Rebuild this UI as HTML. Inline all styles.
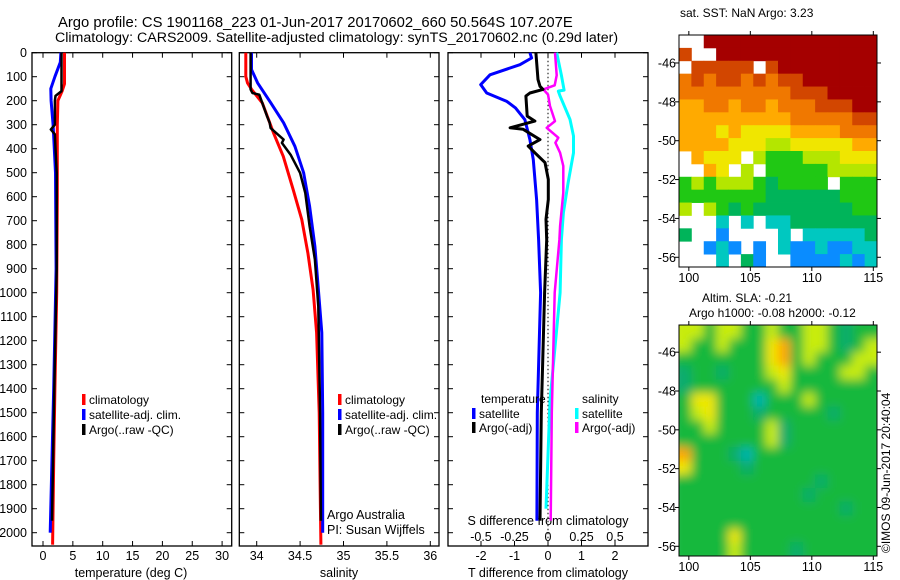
<!DOCTYPE html>
<html><head><meta charset="utf-8">
<style>
html,body{margin:0;padding:0;background:#fff;}
svg{display:block;font-family:"Liberation Sans",Arial,sans-serif;}
text{fill:#000;}
</style></head>
<body>
<svg id="fig" width="900" height="580" viewBox="0 0 900 580" xmlns="http://www.w3.org/2000/svg">
<defs>
<filter id="blurSla" x="0" y="0" width="1" height="1"><feGaussianBlur stdDeviation="5"/></filter>
<clipPath id="clipSla"><rect x="679" y="325" width="198" height="231"/></clipPath>
</defs>
<text x="58" y="27" font-size="14.8">Argo profile: CS 1901168_223 01-Jun-2017 20170602_660 50.564S 107.207E</text>
<text x="55" y="42" font-size="14.2">Climatology: CARS2009. Satellite-adjusted climatology: synTS_20170602.nc (0.29d later)</text>
<text x="680" y="17" font-size="12">sat. SST: NaN Argo: 3.23</text>
<text x="702" y="302" font-size="12">Altim. SLA: -0.21</text>
<text x="689" y="317" font-size="12">Argo h1000: -0.08 h2000: -0.12</text>
<text transform="translate(890,553) rotate(-90)" font-size="12">©IMOS 09-Jun-2017 20:40:04</text>
</svg>
<script>
// ---------- data ----------
const depthTicks=[0,100,200,300,400,500,600,700,800,900,1000,1100,1200,1300,1400,1500,1600,1700,1800,1900,2000];
const tempTicks=[0,5,10,15,20,25,30];
const salTicks=[34,34.5,35,35.5,36];
const salTickLabels=["34","34.5","35","35.5","36"];
const tdTicks=[-2,-1,0,1,2];
const sdTicks=[-0.5,-0.25,0,0.25,0.5];
const sdTickLabels=["-0.5","-0.25","0","0.25","0.5"];
// temperature profiles
const tClimDepth=[0,130,160,200,300,600,1000,1400,1700,2050];
const tClimVal=[3.6,3.6,3.2,2.5,2.4,2.4,2.3,2.0,1.8,1.6];
const tSatDepth=[0,40,100,150,200,300,500,900,1400,2000];
const tSatVal=[3.0,2.9,2.0,1.3,1.35,1.7,2.1,2.2,1.8,1.2];
const tArgoDepth=[0,160,180,200,300,320,340,400,500,900,1400,1950];
const tArgoVal=[3.1,3.1,2.1,2.0,2.0,1.3,2.0,2.1,2.3,2.3,1.9,1.5];
// salinity profiles
const sClimDepth=[0,99,126,154,209,334,432,571,696,835,988,1167,1500,2050];
const sClimVal=[33.875,33.875,33.894,33.943,34.065,34.193,34.307,34.42,34.52,34.59,34.65,34.69,34.72,34.74];
const sSatDepth=[0,70,126,208,292,390,500,640,807,1030,1167,1500,2000];
const sSatVal=[33.94,33.94,34.01,34.16,34.31,34.44,34.54,34.61,34.67,34.72,34.75,34.76,34.76];
const sArgoDepth=[0,153,168,175,265,292,314,362,376,425,501,585,723,862,1057,1500,1950];
const sArgoVal=[33.93,33.93,33.95,34.03,34.12,34.15,34.16,34.31,34.29,34.39,34.5,34.56,34.61,34.67,34.71,34.73,34.74];
// difference profiles
const dTSatDepth=[0,22,50,92,133,168,203,230,279,362,446,612,779,1000,1500,1950];
const dTSatVal=[-0.54,-0.49,-0.84,-1.73,-2.01,-1.83,-1.23,-0.97,-0.69,-0.54,-0.44,-0.34,-0.28,-0.22,-0.32,-0.33];
const dTArgoDepth=[0,112,140,153,168,181,264,285,313,319,362,389,417,458,528,612,694,779,1000,1500,1950];
const dTArgoVal=[-0.36,-0.3,-0.24,-0.15,-0.54,-0.66,-0.62,-0.39,-1.13,-0.74,-0.24,-0.59,-0.39,-0.09,0.01,0.01,-0.06,-0.04,-0.1,-0.2,-0.24];
const dSSatDepth=[0,94,156,160,181,278,347,417,542,667,779,1000,1450,1900];
const dSSatVal=[0.065,0.10,0.12,0.077,0.09,0.164,0.19,0.19,0.15,0.115,0.10,0.09,0.015,-0.015];
const dSArgoDepth=[0,94,136,153,174,222,285,313,354,375,417,472,583,722,779,1000,1500,1950];
const dSArgoVal=[0.052,0.065,0.05,-0.035,0.0,0.015,0.052,-0.01,0.077,0.055,0.09,0.114,0.114,0.09,0.085,0.05,0.028,0.02];
// maps
const mapLonTicks=[100,105,110,115];
const mapLatTicks=[-46,-48,-50,-52,-54,-56];
const sstGrid=[
[-1,-1,10,10,10,10,10,10,10,10,10,10,10,10,10,10],
[9,-1,-1,10,10,10,10,10,10,10,10,10,10,10,10,10],
[-1,9,9,9,9,9,-1,9,10,10,10,10,10,10,10,10],
[8,9,8,9,9,8,9,8,9,9,10,10,10,10,10,10],
[8,8,8,8,8,8,8,8,8,9,9,9,10,10,10,10],
[7,7,8,8,7,8,8,7,8,8,8,9,9,9,10,10],
[7,7,7,7,7,7,7,7,7,8,8,8,8,8,9,9],
[7,7,7,6,7,6,6,6,6,7,7,7,7,8,8,8],
[7,7,7,7,6,6,6,5,5,6,6,6,6,6,7,7],
[-1,7,6,6,6,-1,5,4,4,4,5,5,5,6,6,6],
[-1,-1,7,6,-1,5,-1,4,4,4,4,4,5,5,5,5],
[4,5,4,5,5,5,4,3,4,4,4,4,-1,4,4,4],
[4,4,4,4,4,4,4,3,3,3,3,3,3,4,4,4],
[5,-1,5,4,3,4,3,3,3,3,3,3,3,3,4,4],
[-1,-1,-1,2,-1,2,-1,2,2,3,3,3,3,3,3,3],
[3,-1,-1,1,-1,-1,-1,-1,2,-1,2,2,2,2,2,3],
[-1,-1,1,2,1,-1,1,-1,2,1,1,2,1,1,2,2],
[-1,-1,-1,2,-1,3,1,-1,-1,1,1,1,1,2,1,2]];
const slaGrid=[
[3,3,2,3,3,2,2,3,2,2,3,3,2,1,2,2],
[3,2,2,3,2,2,2,4,5,2,3,3,2,1,2,3],
[2,2,2,2,2,2,2,4,5,2,3,2,2,2,3,3],
[1,2,2,1,2,2,2,3,4,2,2,2,2,3,3,2],
[1,2,2,2,2,2,2,2,3,2,2,2,2,2,2,2],
[2,4,4,2,2,2,0,2,2,2,3,2,2,2,2,2],
[2,3,4,2,2,2,1,2,2,2,2,2,1,2,2,2],
[2,2,3,2,2,2,2,3,1,2,2,2,2,2,2,2],
[2,2,2,2,2,2,2,3,1,2,2,2,2,2,2,2],
[5,2,2,2,1,0,2,2,2,2,2,2,2,2,2,2],
[4,2,2,2,2,1,2,2,2,2,2,2,2,2,2,2],
[2,2,2,2,2,2,2,2,2,2,2,1,2,2,2,2],
[2,2,2,2,2,2,2,2,2,2,1,2,2,2,2,2],
[2,2,2,2,2,2,2,2,2,2,2,2,2,1,2,2],
[2,2,2,2,2,2,2,2,2,2,2,2,2,2,2,2],
[2,2,2,2,4,2,2,2,2,2,2,2,2,2,2,2],
[2,2,2,2,3,2,2,2,2,1,2,2,2,2,2,2]];
// ---------- drawing ----------
const NS="http://www.w3.org/2000/svg";
const svg=document.getElementById('fig');
function mk(tag,attrs,parent){const e=document.createElementNS(NS,tag);for(const k in attrs)e.setAttribute(k,attrs[k]);(parent||svg).appendChild(e);return e;}
const Y0=52.7, PXD=0.24, YB=546;
const yD=d=>Y0+d*PXD;
const xT=v=>43+v*5.97;
const xS=v=>256.7+(v-34)*86.8;
const xTD=v=>548+v*33.5;
const xSD=v=>548+v*134;
const panels=[{x0:32,x1:231.7,name:'temperature-panel'},{x0:239.3,x1:439,name:'salinity-panel'},{x0:448,x1:648,name:'difference-panel'}];
panels.forEach((p,i)=>{
  const g=mk('g',{});
  
  
  const r=mk('rect',{x:p.x0,y:Y0,width:p.x1-p.x0,height:YB-Y0,fill:'#fff',stroke:'#000','stroke-width':1.3},g);
  
  
  depthTicks.forEach(d=>{
    mk('line',{x1:p.x0,x2:p.x0+5,y1:yD(d),y2:yD(d),stroke:'#000'},g);
    mk('line',{x1:p.x1-5,x2:p.x1,y1:yD(d),y2:yD(d),stroke:'#000'},g);
  });
  p.g=g;
});
depthTicks.forEach(d=>{
  const t=mk('text',{x:27,y:yD(d)+4.5,'font-size':12.5,'text-anchor':'end'});
  t.textContent=d;
  
  
});
function xTicks(g,vals,labels,fx,ly,top){
  vals.forEach((v,i)=>{
    const x=fx(v);
    mk('line',{x1:x,x2:x,y1:YB,y2:YB-5,stroke:'#000'},g);
    if(top)mk('line',{x1:x,x2:x,y1:Y0,y2:Y0+5,stroke:'#000'},g);
    const t=mk('text',{x:x,y:ly,'font-size':12.5,'text-anchor':'middle'},g);
    t.textContent=labels[i];
    
    
  });
}
xTicks(panels[0].g,tempTicks,tempTicks.map(String),xT,560,true);
xTicks(panels[1].g,salTicks,salTickLabels,xS,560,true);
xTicks(panels[2].g,tdTicks,tdTicks.map(String),xTD,560,true);
sdTicks.forEach((v,i)=>{
  const t=mk('text',{x:xSD(v),y:541,'font-size':12.5,'text-anchor':'middle'});
  t.textContent=sdTickLabels[i];
  
  
});
function label(x,y,s,name,anchor,fs){const t=mk('text',{x:x,y:y,'font-size':fs||12.5,'text-anchor':anchor||'middle'});t.textContent=s;return t;}
label(131,577,'temperature (deg C)','temperature-axis-title');
label(339,577,'salinity','salinity-axis-title');
label(548,577,'T difference from climatology','t-difference-axis-title');
label(548,525,'S difference from climatology','s-difference-axis-title');
label(327,519,'Argo Australia','argo-australia-note','start');
label(327,534,'PI: Susan Wijffels','pi-note','start');
const zl=mk('line',{x1:548,x2:548,y1:Y0,y2:YB,stroke:'#000','stroke-dasharray':'1.5,2.5','stroke-width':1});


function prof(depths,vals,fx,color,w,name){
  const pts=depths.map((d,i)=>fx(vals[i]).toFixed(1)+','+yD(d).toFixed(1)).join(' ');
  const pl=mk('polyline',{points:pts,fill:'none',stroke:color,'stroke-width':w,'stroke-linejoin':'round'});
  
  
}
prof(tClimDepth,tClimVal,xT,'#ff0000',3,'temperature-climatology-line');
prof(tSatDepth,tSatVal,xT,'#0000ff',3,'temperature-satellite-line');
prof(tArgoDepth,tArgoVal,xT,'#000',2.5,'temperature-argo-line');
prof(sClimDepth,sClimVal,xS,'#ff0000',3,'salinity-climatology-line');
prof(sSatDepth,sSatVal,xS,'#0000ff',3,'salinity-satellite-line');
prof(sArgoDepth,sArgoVal,xS,'#000',2.5,'salinity-argo-line');
prof(dSSatDepth,dSSatVal,xSD,'#00ffff',3,'s-diff-satellite-line');
prof(dSArgoDepth,dSArgoVal,xSD,'#ff00ff',2.5,'s-diff-argo-line');
prof(dTSatDepth,dTSatVal,xTD,'#0000ff',3,'t-diff-satellite-line');
prof(dTArgoDepth,dTArgoVal,xTD,'#000',3,'t-diff-argo-line');
function legendEntry(x,y,color,s){
  const g=mk('g',{});
  
  
  mk('rect',{x:x,y:y-10,width:3.5,height:11,fill:color},g);
  const t=mk('text',{x:x+7,y:y,'font-size':12},g);t.textContent=s;
}
[[82,'#ff0000','climatology'],[82,'#0000ff','satellite-adj. clim.'],[82,'#000','Argo(..raw -QC)']].forEach((e,i)=>legendEntry(e[0],404+i*15,e[1],e[2]));
[[338,'#ff0000','climatology'],[338,'#0000ff','satellite-adj. clim.'],[338,'#000','Argo(..raw -QC)']].forEach((e,i)=>legendEntry(e[0],404+i*15,e[1],e[2]));
label(481,403,'temperature','legend-temperature-header','start',12);
label(582,403,'salinity','legend-salinity-header','start',12);
legendEntry(472,418,'#0000ff','satellite');
legendEntry(472,432,'#000','Argo(-adj)');
legendEntry(575,418,'#00ffff','satellite');
legendEntry(575,432,'#ff00ff','Argo(-adj)');
const sstColors={0:'#0030c8',1:'#0a8cff',2:'#00c8c0',3:'#00b45a',4:'#20c814',5:'#b4e600',6:'#f0e600',7:'#ffaa00',8:'#f07800',9:'#d24600',10:'#a50000'};
const slaColors={0:'#00b4b4',1:'#0aac6e',2:'#14b83c',3:'#c8ec10',4:'#f0e800',5:'#ffa500'};
function drawMap(grid,colors,x0,y0,x1,y1,name,latTop,latBot,lonL,lonR,blur){
  const g=mk('g',{});
  
  
  mk('rect',{x:x0,y:y0,width:x1-x0,height:y1-y0,fill:'#fff'},g);
  let cg=g;
  if(blur){const outer=mk('g',{'clip-path':'url(#clipSla)'},g);cg=mk('g',{filter:'url(#blurSla)'},outer);}
  const rows=grid.length,cols=grid[0].length;
  const cw=(x1-x0)/cols,ch=(y1-y0)/rows;
  grid.forEach((row,r)=>row.forEach((v,c)=>{
    if(v<0)return;
    let xx=x0+c*cw,yy=y0+r*ch,ww=cw+0.4,hh=ch+0.4;
    if(blur){ if(c===0){xx-=8;ww+=8;} if(c===cols-1){ww+=8;} if(r===0){yy-=8;hh+=8;} if(r===rows-1){hh+=8;} }
    const cell=mk('rect',{x:xx.toFixed(2),y:yy.toFixed(2),width:ww.toFixed(2),height:hh.toFixed(2),fill:colors[v]},cg);
    
    
  }));
  mk('rect',{x:x0,y:y0,width:x1-x0,height:y1-y0,fill:'none',stroke:'#000','stroke-width':1},g);
  const fxL=l=>x0+(l-lonL)/(lonR-lonL)*(x1-x0);
  const fyL=l=>y0+(latTop-l)/(latTop-latBot)*(y1-y0);
  mapLonTicks.forEach(l=>{
    const x=fxL(l);
    mk('line',{x1:x,x2:x,y1:y1,y2:y1+4,stroke:'#000'},g);
    mk('line',{x1:x,x2:x,y1:y0,y2:y0-4,stroke:'#000'},g);
    const t=mk('text',{x:x,y:y1+15,'font-size':12.5,'text-anchor':'middle'},g);t.textContent=l;
    
    
  });
  mapLatTicks.forEach(l=>{
    const y=fyL(l);
    mk('line',{x1:x0,x2:x0-4,y1:y,y2:y,stroke:'#000'},g);
    mk('line',{x1:x1,x2:x1+4,y1:y,y2:y,stroke:'#000'},g);
    const t=mk('text',{x:x0-3,y:y+4.5,'font-size':12.5,'text-anchor':'end'},g);t.textContent=l;
    
    
  });
}
drawMap(sstGrid,sstColors,679,35,877,267,'sst-map',-44.56,-56.5,99.2,115.3,false);
drawMap(slaGrid,slaColors,679,325,877,556,'sla-map',-44.6,-56.5,99.2,115.3,true);
</script>
</body></html>
